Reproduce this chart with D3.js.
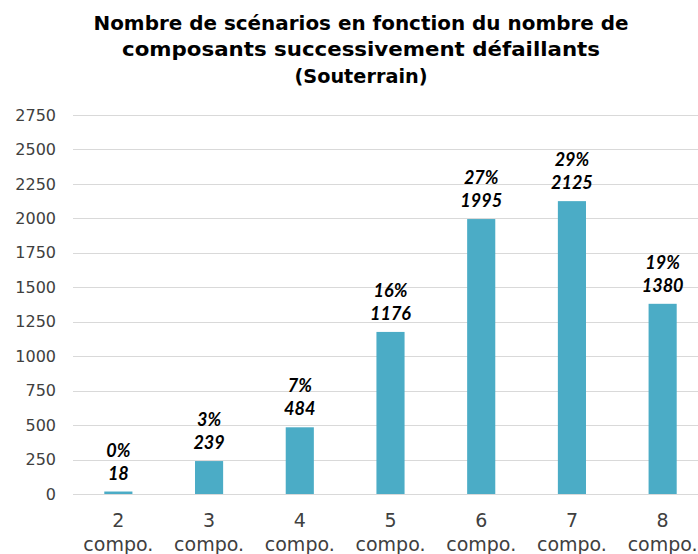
<!DOCTYPE html>
<html>
<head>
<meta charset="utf-8">
<script src="https://cdn.jsdelivr.net/npm/d3@7"></script>
<style>
  html, body { margin: 0; padding: 0; background: #fff; }
  svg { display: block; font-family: "Century Gothic", "DejaVu Sans", sans-serif; }
</style>
</head>
<body>
<svg id="chart" width="698" height="554"></svg>
<script>
// Scenario counts by number of successively failing components
const categories = ["2", "3", "4", "5", "6", "7", "8"];
const categorySuffix = "compo.";
const scenarioCounts = [18, 239, 484, 1176, 1995, 2125, 1380];
const yTicks = [0, 250, 500, 750, 1000, 1250, 1500, 1750, 2000, 2250, 2500, 2750];
const titleLines = [
  "Nombre de scénarios en fonction du nombre de",
  "composants successivement défaillants",
  "(Souterrain)"
];

const total = d3.sum(scenarioCounts);
const shares = scenarioCounts.map(v => Math.round(v / total * 100) + "%");

const svg = d3.select("#chart");
const margin = { left: 73, top: 115, bottom: 494 };
const plotRight = 708;

const x = d3.scaleBand()
  .domain(categories)
  .range([margin.left, plotRight])
  .paddingInner(0.69)
  .paddingOuter(0.345);

const y = d3.scaleLinear()
  .domain([0, 2750])
  .range([margin.bottom, margin.top]);

// Title, each line fitted to its set width
const titleWidths = [535, 478, 133];
const titleBase = [30, 56, 83];
const title = svg.append("g").attr("text-anchor", "middle")
  .attr("font-weight", "bold").attr("font-size", 20).attr("fill", "#000");
titleLines.forEach((t, i) => {
  title.append("text").attr("x", 361).attr("y", titleBase[i])
    .attr("textLength", titleWidths[i]).attr("lengthAdjust", "spacingAndGlyphs")
    .text(t);
});

// Horizontal gridlines
svg.append("g")
  .selectAll("line")
  .data(yTicks)
  .join("line")
  .attr("x1", margin.left).attr("x2", 698)
  .attr("y1", d => Math.round(y(d)) + 0.5).attr("y2", d => Math.round(y(d)) + 0.5)
  .attr("stroke", "#d9d9d9").attr("stroke-width", 1);

// Y axis labels
const yAxis = d3.axisLeft(y).tickValues(yTicks).tickSize(0).tickPadding(0)
  .tickFormat(d3.format("d"));
const yg = svg.append("g").attr("transform", "translate(56,0)").call(yAxis);
yg.select(".domain").remove();
yg.selectAll("text").attr("font-size", 16).attr("fill", "#404040")
  .attr("font-family", "\"Century Gothic\", \"DejaVu Sans\", sans-serif");

// Bars
svg.append("g")
  .selectAll("rect")
  .data(scenarioCounts)
  .join("rect")
  .attr("x", (d, i) => x(categories[i]))
  .attr("width", x.bandwidth())
  .attr("y", d => y(d))
  .attr("height", d => y(0) - y(d))
  .attr("fill", "#4bacc6");

// Data labels: share and count
const labels = svg.append("g")
  .attr("text-anchor", "middle").attr("font-weight", "bold")
  .attr("font-style", "italic").attr("font-size", 18).attr("fill", "#000")
  .attr("font-family", "\"Century Gothic\", Lato, sans-serif");
scenarioCounts.forEach((v, i) => {
  const cx = x(categories[i]) + x.bandwidth() / 2;
  labels.append("text").attr("x", cx).attr("y", y(v) - 35).text(shares[i]);
  labels.append("text").attr("x", cx).attr("y", y(v) - 12).text(v);
});

// X axis labels
const xAxis = d3.axisBottom(x).tickSize(0).tickPadding(0).tickFormat(() => "");
const xg = svg.append("g").attr("transform", `translate(0,${margin.bottom})`).call(xAxis);
xg.select(".domain").remove();
xg.selectAll(".tick").each(function(d) {
  const t = d3.select(this).select("text")
    .attr("font-size", 19).attr("fill", "#404040").attr("dy", null).attr("y", 0)
    .attr("font-family", "\"Century Gothic\", \"DejaVu Sans\", sans-serif");
  t.append("tspan").attr("x", 0).attr("y", 33).text(d);
  t.append("tspan").attr("x", 0).attr("y", 57).text(categorySuffix);
});
</script>
</body>
</html>
